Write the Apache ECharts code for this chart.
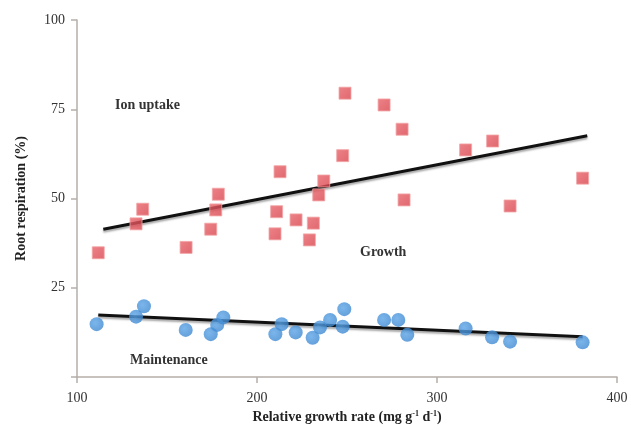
<!DOCTYPE html>
<html>
<head>
<meta charset="utf-8">
<script src="https://cdn.jsdelivr.net/npm/echarts@6/dist/echarts.min.js"></script>
<style>html,body{margin:0;padding:0;background:#fff}#c{width:631px;height:430px}</style>
</head>
<body>
<div id="c"></div>
<script>
// Ion uptake (red squares): [growth rate, % respiration]
const ionUptake = [
  [111.8,34.8],[132.8,42.9],[136.5,47.0],[160.6,36.3],[174.3,41.4],[177.1,46.8],
  [178.5,51.2],[210.0,40.1],[210.9,46.3],[212.8,57.5],[221.7,44.0],[229.1,38.4],
  [231.3,43.1],[234.3,51.0],[237.1,54.9],[247.6,62.0],[248.9,79.5],[270.6,76.2],
  [280.6,69.4],[281.7,49.6],[315.9,63.6],[330.9,66.1],[340.6,47.9],[380.9,55.7]
];
// Maintenance (blue circles)
const maintenance = [
  [110.9,14.8],[132.8,16.9],[137.2,19.8],[160.4,13.2],[174.3,12.0],[177.9,14.6],
  [181.3,16.7],[210.2,12.0],[213.7,14.8],[221.5,12.5],[230.9,11.0],[235.0,13.9],
  [240.6,16.0],[248.5,19.0],[247.6,14.1],[270.6,16.0],[278.5,16.0],[283.5,11.8],
  [315.9,13.6],[330.6,11.1],[340.6,9.9],[380.9,9.7]
];
// Regression lines (end points)
const ionTrend = [[114.6,41.4],[383.5,67.6]];
const maintTrend = [[111.8,17.4],[380.9,11.3]];
const xTicks = [100,200,300,400];
const yTicks = [25,50,75,100];

const serif = '"Liberation Serif","DejaVu Serif",serif';
const chart = echarts.init(document.getElementById('c'));
const lineStyle = {color:'#111',width:3,shadowColor:'rgba(0,0,0,0.35)',shadowBlur:2,shadowOffsetY:2};
chart.setOption({
  animation:false,
  grid:{left:77,right:14,top:20,bottom:53,containLabel:false},
  xAxis:{
    type:'value',min:100,max:400,interval:100,
    name:'{a|Relative growth rate (mg g}{s|-1}{a| d}{s|-1}{a|)}',
    nameLocation:'middle',nameGap:28,
    nameTextStyle:{rich:{
      a:{fontFamily:serif,fontWeight:'bold',fontSize:14,color:'#222'},
      s:{fontFamily:serif,fontWeight:'bold',fontSize:8,color:'#222',verticalAlign:'top',padding:[0,0,6,0]}
    }},
    axisLine:{lineStyle:{color:'#b5aea8',width:1.5}},
    axisTick:{show:true,length:6,lineStyle:{color:'#b5aea8',width:1.5}},
    axisLabel:{fontFamily:serif,fontSize:14,color:'#333',margin:14,
      formatter:v=>xTicks.includes(v)?String(v):''},
    splitLine:{show:false}
  },
  yAxis:{
    type:'value',min:0,max:100,interval:25,
    name:'Root respiration (%)',nameLocation:'middle',nameGap:49,
    nameTextStyle:{fontFamily:serif,fontWeight:'bold',fontSize:14,color:'#222'},
    axisLine:{show:true,lineStyle:{color:'#b5aea8',width:1.5}},
    axisTick:{show:true,length:6,lineStyle:{color:'#b5aea8',width:1.5}},
    axisLabel:{fontFamily:serif,fontSize:14,color:'#333',margin:12,
      formatter:v=>yTicks.includes(v)?String(v):''},
    splitLine:{show:false}
  },
  series:[
    {type:'line',data:ionTrend,symbol:'none',lineStyle:lineStyle,z:1},
    {type:'line',data:maintTrend,symbol:'none',lineStyle:lineStyle,z:1},
    {type:'scatter',data:ionUptake,symbol:'rect',symbolSize:12,z:2,
      itemStyle:{color:new echarts.graphic.LinearGradient(0,0,1,1,[{offset:0,color:'#e8636a'},{offset:1,color:'#d8424a'}]),
        borderColor:'#f3a5a6',borderWidth:1}},
    {type:'scatter',data:maintenance,symbol:'circle',symbolSize:14,z:2,
      itemStyle:{color:new echarts.graphic.RadialGradient(0.4,0.4,0.7,[{offset:0,color:'#5aa3e6'},{offset:1,color:'#3a85cf'}])}}
  ],
  graphic:[
    {type:'text',left:115,top:98,style:{text:'Ion uptake',font:'bold 14px '+serif,fill:'#333'}},
    {type:'text',left:360,top:245,style:{text:'Growth',font:'bold 14px '+serif,fill:'#333'}},
    {type:'text',left:130,top:353,style:{text:'Maintenance',font:'bold 14px '+serif,fill:'#333'}}
  ]
});
</script>
</body>
</html>
